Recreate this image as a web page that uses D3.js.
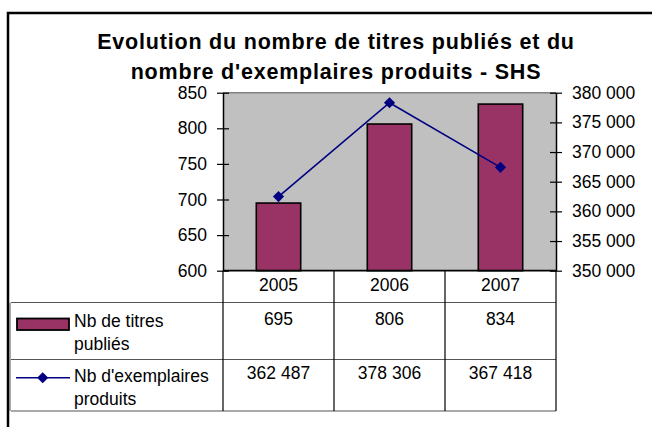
<!DOCTYPE html>
<html>
<head>
<meta charset="utf-8">
<script src="https://cdn.jsdelivr.net/npm/d3@7"></script>
<style>
  html, body { margin: 0; padding: 0; background: #fff; }
  svg { display: block; font-family: "Liberation Sans", Arial, sans-serif; }
</style>
</head>
<body>
<svg id="chart" width="652" height="427"></svg>
<script>
// Data
const years = ["2005", "2006", "2007"];
const titres = [695, 806, 834];
const exemplaires = [362487, 378306, 367418];
const leftTicks = [600, 650, 700, 750, 800, 850];
const rightTicks = [350000, 355000, 360000, 365000, 370000, 375000, 380000];
const titleLines = ["Evolution du nombre de titres publiés et du", "nombre d'exemplaires produits - SHS"];
const seriesNames = [["Nb de titres", "publiés"], ["Nb d'exemplaires", "produits"]];

const barColor = "#993366";
const lineColor = "#000080";
const fmtSpace = v => d3.format(",")(v).replace(/,/g, " ");

const svg = d3.select("#chart");

// Plot area
const plot = { left: 223, right: 556, top: 92.7, bottom: 270.7 };

const x = d3.scaleBand().domain(years).range([plot.left, plot.right])
  .paddingInner(0.6).paddingOuter(0.3);
const xc = d3.scaleBand().domain(years).range([plot.left, plot.right]);
const yL = d3.scaleLinear().domain([600, 850]).range([plot.bottom, plot.top]);
const yR = d3.scaleLinear().domain([350000, 380000]).range([plot.bottom, plot.top]);

// Outer frame (top and left edges)
svg.append("path")
  .attr("d", "M8,427 L8,13 L652,13")
  .attr("fill", "none").attr("stroke", "#000").attr("stroke-width", 2.5);

// Title
svg.append("g").selectAll("text").data(titleLines).join("text")
  .attr("x", 336).attr("y", (d, i) => 49 + i * 30)
  .attr("text-anchor", "middle")
  .attr("font-size", 21.5).attr("font-weight", "bold")
  .attr("letter-spacing", 0.8)
  .text(d => d);

// Plot background
svg.append("rect")
  .attr("x", plot.left).attr("y", plot.top)
  .attr("width", plot.right - plot.left).attr("height", plot.bottom - plot.top)
  .attr("fill", "#C0C0C0");
svg.append("line")
  .attr("x1", plot.left).attr("x2", plot.right)
  .attr("y1", plot.top).attr("y2", plot.top)
  .attr("stroke", "#808080").attr("stroke-width", 1.5);

// Bars
svg.append("g").selectAll("rect").data(years).join("rect")
  .attr("x", d => x(d))
  .attr("width", x.bandwidth())
  .attr("y", (d, i) => yL(titres[i]))
  .attr("height", (d, i) => plot.bottom - yL(titres[i]))
  .attr("fill", barColor)
  .attr("stroke", "#000").attr("stroke-width", 1.6);

// Line series
const linePts = years.map((d, i) => [xc(d) + xc.bandwidth() / 2, yR(exemplaires[i])]);
svg.append("path")
  .attr("d", d3.line()(linePts))
  .attr("fill", "none").attr("stroke", lineColor).attr("stroke-width", 1.6);
const diamond = d3.symbol().type(d3.symbolSquare).size(62);
svg.append("g").selectAll("path").data(linePts).join("path")
  .attr("transform", d => `translate(${d[0]},${d[1]}) rotate(45)`)
  .attr("d", diamond)
  .attr("fill", lineColor);

// Axes
function styleAxis(g) {
  g.select(".domain").attr("stroke", "#000").attr("stroke-width", 1.5);
  g.selectAll(".tick line").attr("stroke", "#000").attr("stroke-width", 1.2);
  g.selectAll(".tick text").attr("fill", "#000").attr("font-size", 17.5)
    .attr("font-family", "Liberation Sans, Arial, sans-serif");
}
const axL = svg.append("g").attr("transform", `translate(${plot.left},0)`)
  .call(d3.axisLeft(yL).tickValues(leftTicks).tickSizeInner(6).tickSizeOuter(0).tickPadding(10));
axL.selectAll(".tick line").attr("x1", 6);
styleAxis(axL);

const axR = svg.append("g").attr("transform", `translate(${plot.right},0)`)
  .call(d3.axisRight(yR).tickValues(rightTicks).tickFormat(fmtSpace).tickSizeInner(6).tickSizeOuter(0).tickPadding(10));
axR.selectAll(".tick line").attr("x1", -6);
styleAxis(axR);

// Data table
const tbl = { left: 11, headerBottom: 302.5, row1Bottom: 359.5, row2Bottom: 411 };
const tg = svg.append("g");
// horizontal rules
[tbl.headerBottom, tbl.row1Bottom, tbl.row2Bottom].forEach(yv => {
  tg.append("line").attr("x1", tbl.left).attr("x2", plot.right)
    .attr("y1", yv).attr("y2", yv).attr("stroke", "#555").attr("stroke-width", 1.2);
});
tg.append("line").attr("x1", plot.left).attr("x2", plot.right)
  .attr("y1", plot.bottom).attr("y2", plot.bottom).attr("stroke", "#000").attr("stroke-width", 1.8);
// vertical rules
const colEdges = years.map(d => xc(d)).concat([plot.right]);
colEdges.forEach(xv => {
  tg.append("line").attr("x1", xv).attr("x2", xv)
    .attr("y1", plot.bottom).attr("y2", tbl.row2Bottom)
    .attr("stroke", "#000").attr("stroke-width", 1.2);
});
tg.append("line").attr("x1", tbl.left - 1).attr("x2", tbl.left - 1)
  .attr("y1", tbl.headerBottom).attr("y2", tbl.row2Bottom)
  .attr("stroke", "#555").attr("stroke-width", 1);

// header years
tg.selectAll("text.yr").data(years).join("text").attr("class", "yr")
  .attr("x", d => xc(d) + xc.bandwidth() / 2).attr("y", 291.3)
  .attr("text-anchor", "middle").attr("font-size", 17.5).text(d => d);
// values
tg.selectAll("text.v1").data(titres).join("text").attr("class", "v1")
  .attr("x", (d, i) => xc(years[i]) + xc.bandwidth() / 2).attr("y", 325.3)
  .attr("text-anchor", "middle").attr("font-size", 17.5).text(d => fmtSpace(d));
tg.selectAll("text.v2").data(exemplaires).join("text").attr("class", "v2")
  .attr("x", (d, i) => xc(years[i]) + xc.bandwidth() / 2).attr("y", 379.3)
  .attr("text-anchor", "middle").attr("font-size", 17.5).text(d => fmtSpace(d));

// legend keys
tg.append("rect").attr("x", 17).attr("y", 318.5).attr("width", 52).attr("height", 11.5)
  .attr("fill", barColor).attr("stroke", "#000").attr("stroke-width", 1.8);
tg.append("line").attr("x1", 16).attr("x2", 70).attr("y1", 377.7).attr("y2", 377.7)
  .attr("stroke", lineColor).attr("stroke-width", 1.6);
tg.append("path").attr("transform", "translate(42.7,377.7) rotate(45)")
  .attr("d", diamond).attr("fill", lineColor);

// series names
seriesNames.forEach((lines, r) => {
  const base = r === 0 ? 327.3 : 381.7;
  lines.forEach((t, j) => {
    tg.append("text").attr("x", 74).attr("y", base + j * 23)
      .attr("font-size", 17.5).text(t);
  });
});
</script>
</body>
</html>
